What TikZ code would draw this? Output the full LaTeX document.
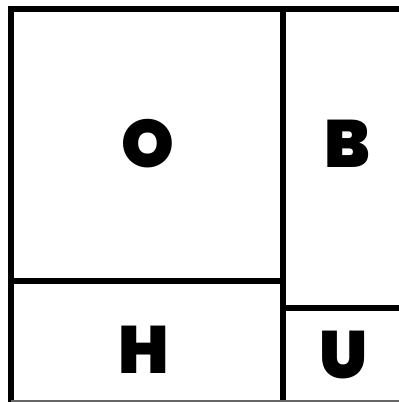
\documentclass[tikz,border=0pt]{standalone}
\usepackage{fontspec}
\newfontfamily\heavy{Poppins}[UprightFont={* Black}]
\begin{document}
\begin{tikzpicture}[x=1pt,y=-1pt,
  lbl/.style={font=\heavy\fontsize{67}{67}\selectfont,inner sep=0pt,anchor=base}]
\useasboundingbox (0,0) rectangle (399,402);
\fill[white] (0,0) rectangle (399,402);
\draw[line width=6pt] (11,6) -- (11,402);
\draw[line width=6pt] (8,9) -- (399,9);
\draw[line width=6pt] (282.5,9) -- (282.5,402);
\draw[line width=6pt] (11,281) -- (282.5,281);
\draw[line width=6pt] (282.5,307.5) -- (399,307.5);
\draw[line width=1.5pt,black!60] (11,400.8) -- (399,400.8);
\node[lbl] (o) at (148,167.5) {O};
\node[lbl] (b) at (347.5,167) {B};
\node[lbl] (h) at (144,373) {H};
\node[lbl] (u) at (343.5,378.5) {U};
\end{tikzpicture}
\end{document}
